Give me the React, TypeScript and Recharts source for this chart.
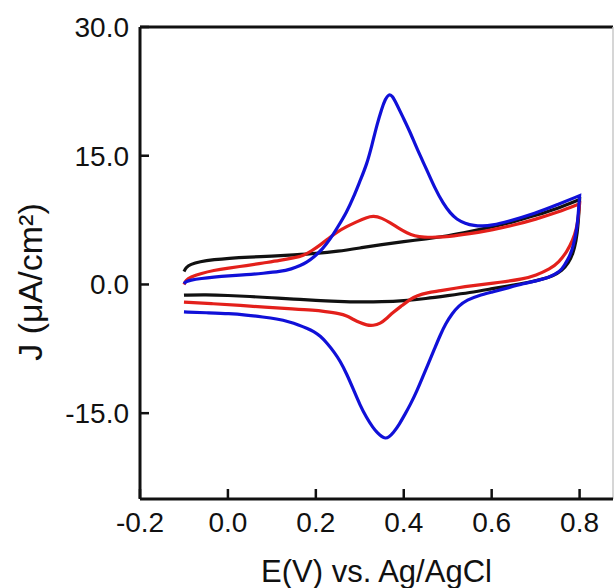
import React from "react";
import { LineChart, Line, XAxis, YAxis, ReferenceLine } from "recharts";

// [E (V), J (uA/cm2)], forward scan then reverse scan
const blackForward = [
  [-0.1, 1.5], [-0.1, 1.5], [-0.095, 2.0], [-0.085, 2.35], [-0.065, 2.65], [-0.03, 2.9], [0.0, 3.05],
  [0.05, 3.2], [0.1, 3.3], [0.15, 3.45], [0.2, 3.6], [0.25, 3.85], [0.3, 4.25], [0.35, 4.65],
  [0.4, 5.0], [0.45, 5.3], [0.5, 5.65], [0.55, 6.15], [0.6, 6.7], [0.65, 7.3], [0.7, 8.05],
  [0.75, 8.85], [0.8, 9.9],
];
const blackReverse = [
  [0.8, 9.9], [0.8, 9.9], [0.797, 7.0], [0.792, 5.0], [0.785, 3.6], [0.775, 2.5], [0.76, 1.6], [0.74, 1.0],
  [0.71, 0.55], [0.68, 0.2], [0.64, -0.15], [0.6, -0.5], [0.55, -0.95], [0.5, -1.3], [0.45, -1.65],
  [0.4, -1.9], [0.35, -2.02], [0.3, -2.05], [0.25, -1.97], [0.2, -1.87], [0.15, -1.7], [0.1, -1.55],
  [0.05, -1.4], [0.0, -1.28], [-0.05, -1.2], [-0.1, -1.25],
];

const redForward = [
  [-0.1, 0.0], [-0.1, 0.0], [-0.095, 0.5], [-0.086, 0.85], [-0.06, 1.3], [-0.033, 1.63], [0.0, 1.9],
  [0.043, 2.2], [0.08, 2.5], [0.119, 2.8], [0.15, 3.1], [0.172, 3.37], [0.19, 3.9], [0.21, 4.6],
  [0.23, 5.4], [0.248, 6.1], [0.27, 6.75], [0.293, 7.3], [0.315, 7.8], [0.331, 8.0], [0.35, 7.75],
  [0.369, 7.2], [0.39, 6.5], [0.407, 6.0], [0.425, 5.65], [0.445, 5.5], [0.476, 5.5], [0.5, 5.55],
  [0.55, 5.9], [0.6, 6.35], [0.65, 6.9], [0.7, 7.6], [0.75, 8.4], [0.8, 9.4],
];
const redReverse = [
  [0.8, 9.4], [0.8, 9.4], [0.797, 7.8], [0.793, 6.5], [0.785, 5.2], [0.771, 3.8], [0.753, 2.6], [0.733, 1.8],
  [0.7, 1.05], [0.673, 0.66], [0.62, 0.25], [0.559, -0.12], [0.52, -0.4], [0.483, -0.75],
  [0.453, -0.95], [0.43, -1.3], [0.415, -1.7], [0.395, -2.5], [0.377, -3.2], [0.36, -4.0],
  [0.347, -4.55], [0.33, -4.8], [0.316, -4.75], [0.3, -4.45], [0.286, -4.1], [0.27, -3.65],
  [0.255, -3.4], [0.22, -3.15], [0.195, -3.0], [0.15, -2.85], [0.081, -2.64], [0.03, -2.45],
  [-0.033, -2.25], [-0.1, -2.05],
];

const blueForward = [
  [-0.1, 0.1], [-0.1, 0.1], [-0.095, 0.35], [-0.086, 0.5], [-0.06, 0.7], [-0.033, 0.85], [0.0, 1.0],
  [0.043, 1.13], [0.08, 1.3], [0.119, 1.5], [0.145, 1.8], [0.165, 2.2], [0.18, 2.6], [0.195, 3.17],
  [0.215, 4.1], [0.233, 5.3], [0.25, 6.7], [0.27, 8.4], [0.286, 10.2], [0.3, 12.0], [0.316, 14.0],
  [0.328, 16.3], [0.339, 18.6], [0.35, 20.5], [0.358, 21.6], [0.366, 22.2], [0.374, 22.0],
  [0.384, 21.0], [0.4, 19.3], [0.415, 17.7], [0.43, 15.8], [0.453, 13.3], [0.47, 11.3],
  [0.49, 9.4], [0.506, 8.3], [0.52, 7.6], [0.54, 7.1], [0.56, 6.85], [0.58, 6.8], [0.6, 6.9],
  [0.635, 7.3], [0.7, 8.3], [0.75, 9.3], [0.8, 10.35],
];
const blueReverse = [
  [0.8, 10.35], [0.8, 10.35], [0.797, 8.2], [0.794, 6.5], [0.786, 4.5], [0.778, 3.3], [0.765, 2.2], [0.756, 1.5],
  [0.73, 0.8], [0.7, 0.4], [0.673, 0.1], [0.64, -0.35], [0.6, -0.9], [0.57, -1.3], [0.544, -1.8],
  [0.525, -2.5], [0.51, -3.4], [0.495, -4.6], [0.483, -5.9], [0.47, -7.5], [0.456, -9.2],
  [0.443, -10.8], [0.43, -12.4], [0.415, -14.0], [0.403, -15.1], [0.39, -16.3], [0.376, -17.3],
  [0.366, -17.8], [0.358, -17.95], [0.35, -17.75], [0.34, -17.3], [0.33, -16.7], [0.315, -15.5],
  [0.3, -14.0], [0.286, -12.3], [0.27, -10.4], [0.255, -8.9], [0.242, -7.9], [0.225, -6.8],
  [0.21, -6.0], [0.195, -5.45], [0.18, -5.1], [0.16, -4.7], [0.142, -4.38], [0.11, -4.0],
  [0.081, -3.8], [0.04, -3.55], [0.005, -3.4], [-0.05, -3.3], [-0.1, -3.2], [-0.1, -3.2],
];

const xTicks = [-0.2, 0.0, 0.2, 0.4, 0.6, 0.8];
const yTicks = [-15, 0, 15, 30];

const toPoints = (fwd: number[][], rev: number[][]) =>
  [...fwd, ...rev].map(([E, J]) => ({ E, J }));

const black = toPoints(blackForward, blackReverse);
const red = toPoints(redForward, redReverse);
const blue = toPoints(blueForward, blueReverse);

const FONT = "'Liberation Sans', Arial, sans-serif";
const INK = "#111";

const XTick = ({ x, y, payload }: any) => (
  <g>
    <line x1={x} x2={x} y1={y - 14} y2={y - 23} stroke={INK} strokeWidth={2.5} />
    <text x={x} y={y} dy="0.71em" textAnchor="middle" fontSize={28} fill={INK} fontFamily={FONT}>
      {Number(payload.value).toFixed(1)}
    </text>
  </g>
);

const YTick = ({ x, y, payload }: any) => (
  <g>
    <line x1={x + 11} x2={x + 20} y1={y} y2={y} stroke={INK} strokeWidth={2.5} />
    <text x={x} y={y} dy="0.355em" textAnchor="end" fontSize={28} fill={INK} fontFamily={FONT}>
      {Number(payload.value).toFixed(1)}
    </text>
  </g>
);

const YTitle = () => (
  <text
    x={30}
    y={282}
    transform="rotate(-90 30 282)"
    textAnchor="middle"
    dominantBaseline="central"
    fontSize={34}
    fill={INK}
    fontFamily={FONT}
  >
    J (μA/cm²)
  </text>
);

export default function App() {
  return (
    <div style={{ position: "absolute", left: 0, top: 0, width: 616, height: 588, background: "#fff" }}>
      <LineChart width={616} height={588} margin={{ top: 27, right: 3, bottom: 0, left: 0 }}>
        <XAxis
          dataKey="E"
          type="number"
          domain={[-0.2, 0.876]}
          ticks={xTicks}
          allowDataOverflow
          height={89}
          tickSize={0}
          tickMargin={13}
          tick={<XTick />}
          axisLine={{ stroke: INK, strokeWidth: 3 }}
          label={{ value: "E(V) vs. Ag/AgCl", position: "insideBottom", offset: 6, fontSize: 31, fill: INK, fontFamily: FONT }}
        />
        <YAxis
          type="number"
          domain={[-25, 30]}
          ticks={yTicks}
          allowDataOverflow
          width={140}
          tickSize={0}
          tickMargin={11}
          tick={<YTick />}
          axisLine={{ stroke: INK, strokeWidth: 3 }}
          label={{ content: <YTitle /> }}
        />
        <ReferenceLine y={30} stroke={INK} strokeWidth={3} />
        <ReferenceLine x={0.876} stroke="#c8c8c8" strokeWidth={1.5} />
        <Line data={black} dataKey="J" type="basis" stroke={INK} strokeWidth={3.2} dot={false} isAnimationActive={false} />
        <Line data={red} dataKey="J" type="basis" stroke="#e3201b" strokeWidth={3.2} dot={false} isAnimationActive={false} />
        <Line data={blue} dataKey="J" type="basis" stroke="#1010d8" strokeWidth={3.2} dot={false} isAnimationActive={false} />
      </LineChart>
    </div>
  );
}
